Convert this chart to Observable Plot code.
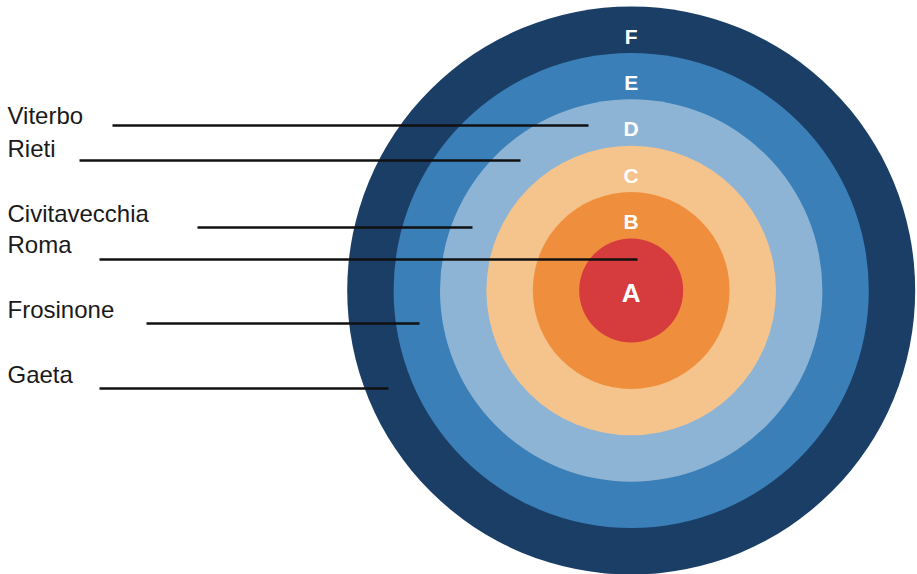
<!DOCTYPE html>
<html>
<head>
<meta charset="utf-8">
<script src="https://cdn.jsdelivr.net/npm/d3@7"></script>
<script src="https://cdn.jsdelivr.net/npm/@observablehq/plot@0.6"></script>
<style>
  html, body { margin: 0; padding: 0; background: #fff; }
  #chart svg { display: block; }
</style>
</head>
<body>
<div id="chart"></div>
<script>
// Rings (outer to inner)
const rings = ["F", "E", "D", "C", "B", "A"];
const ringLevel = [6, 5, 4, 3, 2, 1];
const ringColors = ["#1a3e66", "#3a7fb8", "#8eb4d5", "#f4c48c", "#ef8f3e", "#d63b3e"];

// Cities and their leader lines
const cities = ["Viterbo", "Rieti", "Civitavecchia", "Roma", "Frosinone", "Gaeta"];
const cityBaseline = [123, 156, 221, 252, 317, 382];
const leaderY = [125, 160, 227, 259, 323, 388];
const leaderStart = [112, 79, 197, 99, 146, 99];
const leaderEnd = [588, 520, 472, 637, 419, 388];

const W = 917, H = 574;
const center = {x: 630.7, y: 290};
const rOpts = {type: "linear", domain: [0, 6], range: [5.6, 284]};
const rScale = Plot.scale({r: rOpts});

const ringData = rings.map((name, i) => ({
  name, level: ringLevel[i], color: ringColors[i],
  x: center.x, y: center.y,
  ly: ringLevel[i] === 1 ? center.y + 3 : center.y - (rScale.apply(ringLevel[i] - 1) + 16)
}));
const cityData = cities.map((name, i) => ({
  name, base: cityBaseline[i], ly: leaderY[i], x1: leaderStart[i], x2: leaderEnd[i]
}));

const chart = Plot.plot({
  width: W, height: H,
  margin: 0,
  x: {domain: [0, W], range: [0, W], axis: null},
  y: {domain: [0, H], range: [0, H], axis: null},
  r: rOpts,
  style: {fontFamily: "'Liberation Sans', Arial, sans-serif", background: "#fff"},
  marks: [
    Plot.dot(ringData, {x: "x", y: "y", r: "level", fill: d => d.color, stroke: null, sort: null}),
    Plot.text(ringData.filter(d => d.level > 1), {x: "x", y: "ly", text: "name", fill: "#fff",
      fontWeight: "bold", fontSize: 21, textAnchor: "middle", lineAnchor: "middle"}),
    Plot.text(ringData.filter(d => d.level === 1), {x: "x", y: "ly", text: "name", fill: "#fff",
      fontWeight: "bold", fontSize: 26, textAnchor: "middle", lineAnchor: "middle"}),
    Plot.link(cityData, {x1: "x1", x2: "x2", y1: "ly", y2: "ly", stroke: "#111", strokeWidth: 2.5}),
    Plot.text(cityData, {x: 7, y: "base", text: "name", fill: "#1a1a1a", fontSize: 24,
      textAnchor: "start", lineAnchor: "bottom"})
  ]
});
document.getElementById("chart").appendChild(chart);
</script>
</body>
</html>
